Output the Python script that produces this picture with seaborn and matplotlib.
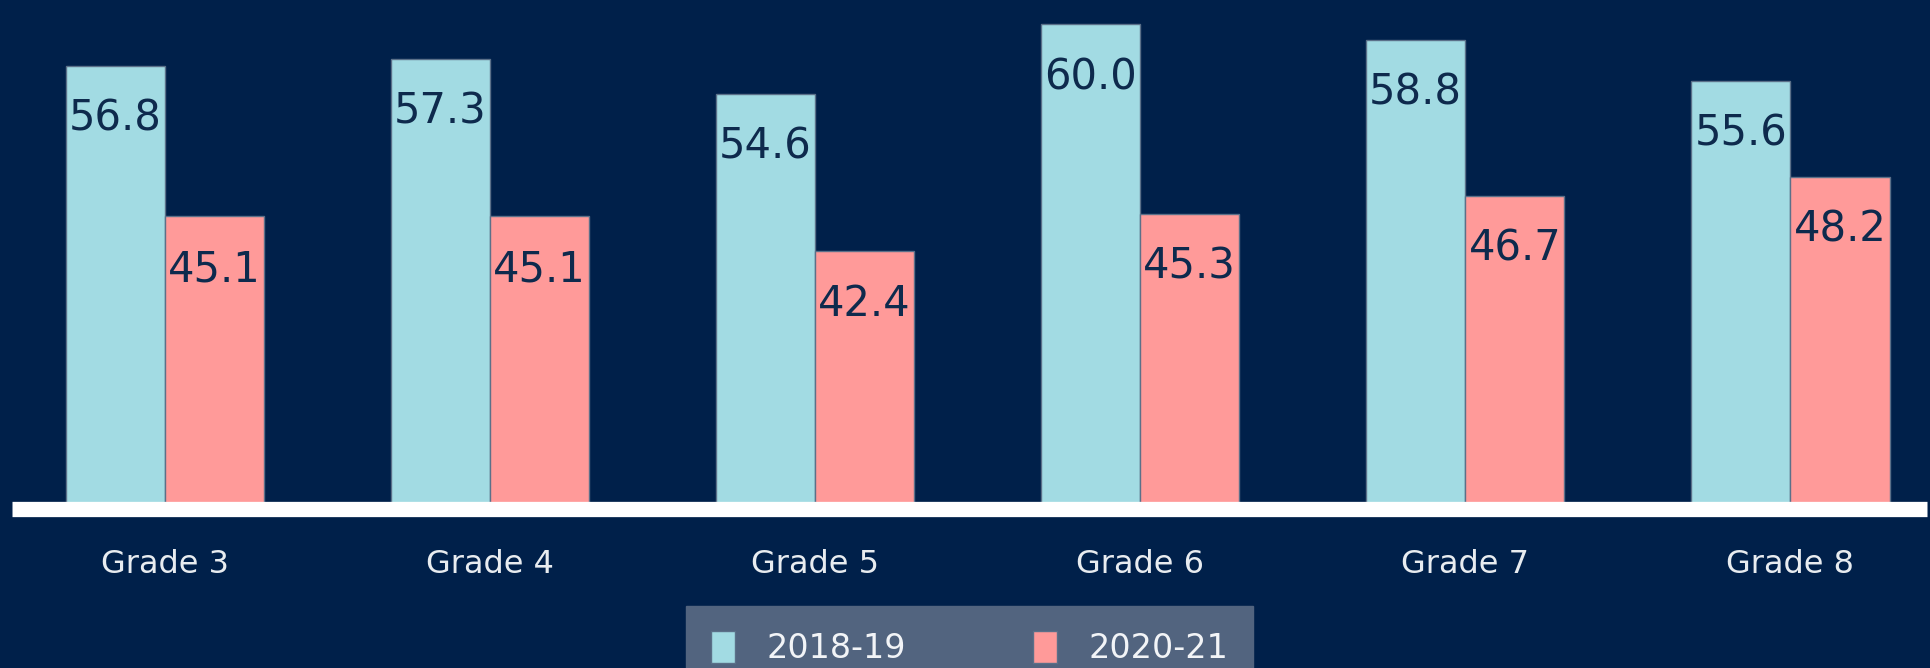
import matplotlib
matplotlib.use("Agg")
import matplotlib.pyplot as plt
import seaborn as sns
import pandas as pd

# valori
grades = ["Grade 3", "Grade 4", "Grade 5", "Grade 6", "Grade 7", "Grade 8"]
years = ["2018-19", "2020-21"]
scores_2018 = [56.8, 57.3, 54.6, 60.0, 58.8, 55.6]
scores_2020 = [45.1, 45.1, 42.4, 45.3, 46.7, 48.2]

bg = "#00204A"
colors = ["#A2DBE3", "#FF9A99"]

df = pd.DataFrame({
    "grade": grades * 2,
    "year": [years[0]] * len(grades) + [years[1]] * len(grades),
    "score": scores_2018 + scores_2020,
})

sns.set_style("white")
plt.rcParams["font.family"] = ["DejaVu Sans"]

fig = plt.figure(figsize=(19.31, 6.68), dpi=100, facecolor=bg)
ax = fig.add_axes([12 / 1931, 159 / 668, 1915 / 1931, 509 / 668])
ax.set_facecolor(bg)

sns.barplot(data=df, x="grade", y="score", hue="year", palette=colors,
            saturation=1, width=0.61, errorbar=None, edgecolor="#5B7089",
            linewidth=1, ax=ax)

# etichetele cu valori, in interiorul barelor, sub varf
for c in ax.containers:
    ax.bar_label(c, fmt="%.1f", padding=-53, fontsize=30, color="#0E2A4D")

ax.set_ylim(22.4, 61.9)
ax.set_xlim(-0.47, 5.42)
ax.set_xlabel("")
ax.set_ylabel("")
ax.set_yticks([])
ax.tick_params(axis="x", length=0, pad=29, labelsize=23, labelcolor="#E8ECF0")

for side in ["top", "left", "right"]:
    ax.spines[side].set_visible(False)
ax.spines["bottom"].set_color("white")
ax.spines["bottom"].set_linewidth(11)
ax.spines["bottom"].set_capstyle("butt")

handles, labels = ax.get_legend_handles_labels()
ax.get_legend().remove()
leg = fig.legend(handles, labels, loc="upper center", bbox_to_anchor=(0.502, 0.0928),
                 ncol=2, fontsize=24, frameon=True, fancybox=False, framealpha=1,
                 facecolor="#52647F", edgecolor="#52647F", borderaxespad=0,
                 handlelength=0.72, handleheight=1.1, handletextpad=0.95,
                 columnspacing=3.8, borderpad=0.75)
for t in leg.get_texts():
    t.set_color("#F2F4F7")

fig.savefig("out.png", dpi=100, facecolor=bg)
